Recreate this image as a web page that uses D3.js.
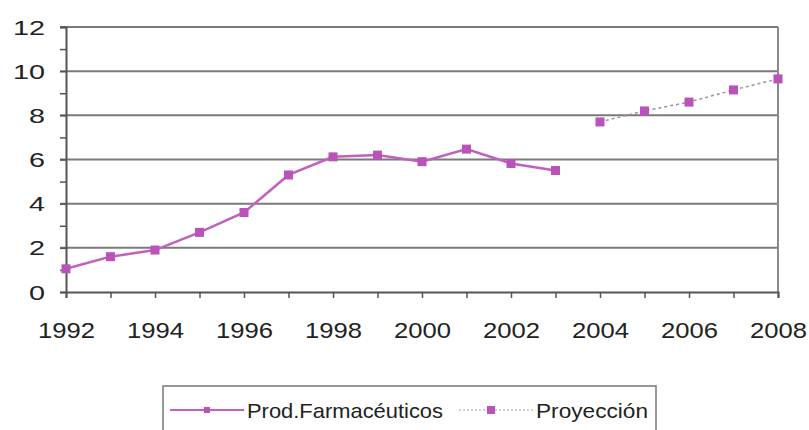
<!DOCTYPE html>
<html>
<head>
<meta charset="utf-8">
<script src="https://cdn.jsdelivr.net/npm/d3@7"></script>
<style>
  body { margin: 0; background: #fff; }
  text { font-family: "Liberation Sans", Arial, sans-serif; }
</style>
</head>
<body>
<div id="wrapper"></div>
<script>
// data
const years = [1992, 1993, 1994, 1995, 1996, 1997, 1998, 1999, 2000, 2001, 2002, 2003];
const prodValues = [1.05, 1.6, 1.9, 2.7, 3.6, 5.3, 6.12, 6.2, 5.9, 6.47, 5.82, 5.5];
const projYears = [2004, 2005, 2006, 2007, 2008];
const projValues = [7.7, 8.2, 8.6, 9.15, 9.65];
const yTicks = [0, 2, 4, 6, 8, 10, 12];
const xTicks = [1992, 1994, 1996, 1998, 2000, 2002, 2004, 2006, 2008];
const seriesNames = ['Prod.Farmacéuticos', 'Proyección'];

function drawChart() {
    let dimensions = {
        width: 809,
        height: 430,
        margin: { top: 27, right: 31, bottom: 138, left: 66 }
    };
    dimensions.boundedWidth = dimensions.width - dimensions.margin.left - dimensions.margin.right;
    dimensions.boundedHeight = dimensions.height - dimensions.margin.top - dimensions.margin.bottom;

    const svg = d3.select('#wrapper').append('svg')
        .attr('width', dimensions.width)
        .attr('height', dimensions.height);

    const bounds = svg.append('g')
        .attr('transform', `translate(${dimensions.margin.left},${dimensions.margin.top})`);

    const xScale = d3.scaleLinear().domain([1992, 2008]).range([0, dimensions.boundedWidth]);
    const yScale = d3.scaleLinear().domain([0, 12]).range([dimensions.boundedHeight, 0]);

    // gridlines
    bounds.append('g')
        .selectAll('line')
        .data(yTicks.filter(d => d > 0))
        .join('line')
        .attr('x1', -6).attr('x2', dimensions.boundedWidth)
        .attr('y1', d => yScale(d)).attr('y2', d => yScale(d))
        .attr('stroke', '#7a7a7a').attr('stroke-width', 2);

    // right border
    bounds.append('line')
        .attr('x1', dimensions.boundedWidth).attr('x2', dimensions.boundedWidth)
        .attr('y1', 0).attr('y2', dimensions.boundedHeight)
        .attr('stroke', '#8a8a8a').attr('stroke-width', 2);

    // y axis with minor ticks
    const yAxis = bounds.append('g')
        .call(d3.axisLeft(yScale).tickValues(d3.range(0, 13)).tickSize(6).tickFormat(''));
    yAxis.select('.domain').attr('stroke', '#555').attr('stroke-width', 2);
    yAxis.selectAll('.tick line').attr('stroke', '#555').attr('stroke-width', 1.5);
    // the source image is stretched sideways, so labels get a wider textLength
    bounds.append('g')
        .selectAll('text')
        .data(yTicks)
        .join('text')
        .attr('x', -21)
        .attr('y', d => yScale(d))
        .attr('dy', '0.36em')
        .attr('text-anchor', 'end')
        .attr('font-size', 21)
        .attr('fill', '#222')
        .attr('textLength', d => String(d).length * 16)
        .attr('lengthAdjust', 'spacingAndGlyphs')
        .text(d => d);

    // x axis
    const xAxis = bounds.append('g')
        .attr('transform', `translate(0,${dimensions.boundedHeight})`)
        .call(d3.axisBottom(xScale).tickValues(d3.range(1992, 2009)).tickSize(6).tickFormat(''));
    xAxis.select('.domain').attr('stroke', '#555').attr('stroke-width', 2);
    xAxis.selectAll('.tick line').attr('stroke', '#555').attr('stroke-width', 1.5);
    bounds.append('g')
        .selectAll('text')
        .data(xTicks)
        .join('text')
        .attr('x', d => xScale(d) - 28)
        .attr('y', dimensions.boundedHeight + 30)
        .attr('dy', '0.71em')
        .attr('font-size', 22)
        .attr('fill', '#222')
        .attr('textLength', 57)
        .attr('lengthAdjust', 'spacingAndGlyphs')
        .text(d => d);

    const prodData = years.map((y, i) => ({ x: y, y: prodValues[i] }));
    const projData = projYears.map((y, i) => ({ x: y, y: projValues[i] }));
    const lineDrawer = d3.line().x(d => xScale(d.x)).y(d => yScale(d.y));

    bounds.append('path')
        .attr('d', lineDrawer(prodData))
        .attr('fill', 'none')
        .attr('stroke', '#c060c0')
        .attr('stroke-width', 2.5);

    bounds.append('path')
        .attr('d', lineDrawer(projData))
        .attr('fill', 'none')
        .attr('stroke', '#a68aaa')
        .attr('stroke-width', 1.5)
        .attr('stroke-dasharray', '3,3');

    const markerSize = 9;
    bounds.append('g')
        .selectAll('rect')
        .data(prodData.concat(projData))
        .join('rect')
        .attr('x', d => xScale(d.x) - markerSize / 2)
        .attr('y', d => yScale(d.y) - markerSize / 2)
        .attr('width', markerSize).attr('height', markerSize)
        .attr('fill', '#b952b9');

    // legend
    const legend = svg.append('g');
    legend.append('rect')
        .attr('x', 163).attr('y', 386)
        .attr('width', 493).attr('height', 50)
        .attr('fill', 'none').attr('stroke', '#777').attr('stroke-width', 1.5);
    const legY = 410;
    legend.append('line')
        .attr('x1', 170).attr('x2', 244).attr('y1', legY).attr('y2', legY)
        .attr('stroke', '#c060c0').attr('stroke-width', 2);
    legend.append('rect')
        .attr('x', 204).attr('y', legY - 3).attr('width', 6).attr('height', 6)
        .attr('fill', '#b952b9');
    legend.append('text')
        .attr('x', 247).attr('y', legY).attr('dy', '0.36em')
        .attr('font-size', 21).attr('fill', '#222')
        .attr('textLength', 196).attr('lengthAdjust', 'spacingAndGlyphs')
        .text(seriesNames[0]);
    legend.append('line')
        .attr('x1', 459).attr('x2', 533).attr('y1', legY).attr('y2', legY)
        .attr('stroke', '#c8b8cc').attr('stroke-width', 1.5)
        .attr('stroke-dasharray', '2,2');
    legend.append('rect')
        .attr('x', 487).attr('y', legY - 4).attr('width', 8).attr('height', 8)
        .attr('fill', '#b952b9');
    legend.append('text')
        .attr('x', 536).attr('y', legY).attr('dy', '0.36em')
        .attr('font-size', 21).attr('fill', '#222')
        .attr('textLength', 112).attr('lengthAdjust', 'spacingAndGlyphs')
        .text(seriesNames[1]);
}

drawChart();
</script>
</body>
</html>
